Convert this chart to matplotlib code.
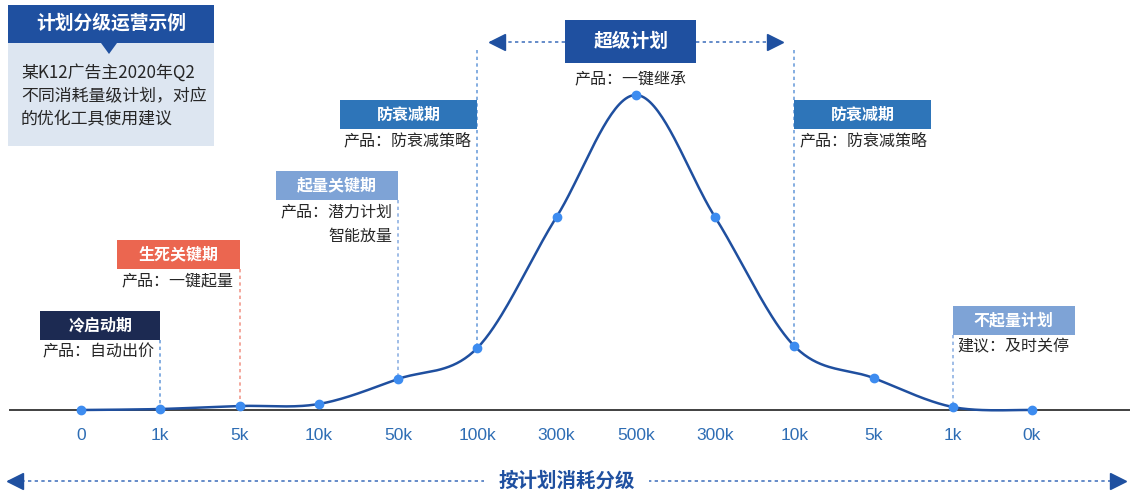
import numpy as np
import matplotlib.pyplot as plt
from matplotlib.patches import Rectangle, Polygon

plt.rcParams['font.family'] = ['Noto Sans CJK SC', 'DejaVu Sans']

# data
tick_labels = ['0', '1k', '5k', '10k', '50k', '100k', '300k', '500k', '300k', '10k', '5k', '1k', '0k']
values = [0, 1, 4, 6, 31, 62, 193, 315, 193, 64, 32, 3, 0]

# stage boxes: anchor category, which side of the anchor the box sits on
stage_titles = ['冷启动期', '生死关键期', '起量关键期', '防衰减期', '防衰减期', '不起量计划']
stage_anchor = [1, 2, 4, 5, 9, 11]
stage_side = ['left', 'left', 'left', 'left', 'right', 'right']
stage_top = [99, 170, 239, 310, 310, 104]
stage_width = [120, 122, 122, 137, 137, 122]
stage_colors = ['#1c2a52', '#eb6650', '#7ea3d6', '#2e75b9', '#2e75b9', '#7ea3d6']
stage_notes = [['产品：自动出价'], ['产品：一键起量'], ['产品：潜力计划', '智能放量'],
               ['产品：防衰减策略'], ['产品：防衰减策略'], ['建议：及时关停']]
line_colors = ['#6f9fdc', '#f19a8c', '#8fb2e3', '#6f9fdc', '#6f9fdc', '#8fb2e3']

info_title = '计划分级运营示例'
info_lines = ['某K12广告主2020年Q2', '不同消耗量级计划，对应', '的优化工具使用建议']

DARK = '#1f4f9f'
PX = 1 / 79.25  # x data units per pixel


def catmull_rom(x, y, n=40):
    p = np.column_stack([x, y]).astype(float)
    p = np.vstack([p[0], p, p[-1]])
    t = np.linspace(0, 1, n)[:, None]
    out = []
    for i in range(1, len(p) - 2):
        p0, p1, p2, p3 = p[i - 1], p[i], p[i + 1], p[i + 2]
        seg = 0.5 * ((2 * p1) + (-p0 + p2) * t + (2 * p0 - 5 * p1 + 4 * p2 - p3) * t ** 2
                     + (-p0 + 3 * p1 - 3 * p2 + p3) * t ** 3)
        out.append(seg)
    s = np.vstack(out)
    return s[:, 0], s[:, 1]


fig = plt.figure(figsize=(11.3, 4.92), dpi=100)
ax = fig.add_axes([0, 0, 1, 1])
ax.set_xlim(-81 * PX, (1130 - 81) * PX)
ax.set_ylim(-82, 410)
ax.axis('off')

xs = np.arange(len(values))

# baseline
ax.plot([-71 * PX, (1130 - 81) * PX], [0, 0], color='#404040', lw=1.4, zorder=2)

# curve
sx, sy = catmull_rom(xs, values)
ax.plot(sx, sy, color=DARK, lw=1.8, zorder=3)
ax.plot(xs, values, 'o', color='#3d8cf0', ms=6, zorder=4)

for i, lab in enumerate(tick_labels):
    ax.text(xs[i], -26, lab, ha='center', va='center', fontsize=12.5,
            color='#2e6db4', family='Liberation Sans')

# stage boxes
h = 29
for title, a, side, top, w, col, notes, lc in zip(stage_titles, stage_anchor, stage_side, stage_top,
                                                  stage_width, stage_colors, stage_notes, line_colors):
    x0 = xs[a] - w * PX if side == 'left' else xs[a]
    ax.add_patch(Rectangle((x0, top - h), w * PX, h, color=col, zorder=5, lw=0))
    ax.text(x0 + w * PX / 2, top - h / 2, title, ha='center', va='center', color='white',
            fontsize=11.5, fontweight='bold', zorder=6)
    for k, note in enumerate(notes):
        if side == 'left':
            ax.text(xs[a] - 6 * PX, top - h - 12 - 24 * k, note, ha='right', va='center',
                    fontsize=11.5, color='#262626')
        else:
            ax.text(xs[a] + 5 * PX, top - h - 12 - 24 * k, note, ha='left', va='center',
                    fontsize=11.5, color='#262626')
    y_start = 360 if a in (5, 9) else top - h
    ax.plot([xs[a], xs[a]], [y_start, values[a]], color=lc, lw=1.2, ls=(0, (2, 2)), zorder=1)

# super plan box
sw = 131
cx = xs[7] - 5 * PX
ax.add_patch(Rectangle((cx - sw * PX / 2, 347), sw * PX, 43, color='#1f50a0', zorder=5, lw=0))
ax.text(cx, 368.5, '超级计划', ha='center', va='center', color='white', fontsize=13.5,
        fontweight='bold', zorder=6)
ax.text(cx, 331, '产品：一键继承', ha='center', va='center', fontsize=11.5, color='#262626')
for x_from, x_to, mk in [(cx - sw * PX / 2, 490 * PX - 81 * PX, '<'),
                         (cx + sw * PX / 2, 782 * PX - 81 * PX, '>')]:
    ax.plot([x_from, x_to], [368, 368], color='#4a78c0', lw=1.2, ls=(0, (2, 2)))
    off = 7 * PX if mk == '<' else -7 * PX
    ax.plot([x_to + off], [368], marker=mk, color='#1f50a0', ms=11, mec='#1f50a0')

# bottom axis arrow
bx0, bx1 = -73 * PX, 1044 * PX
ax.plot([bx0, bx1], [-71, -71], color='#4a78c0', lw=1.2, ls=(0, (2, 2)))
ax.plot([bx0 + 7 * PX], [-71], marker='<', color='#1f50a0', ms=11)
ax.plot([bx1 - 7 * PX], [-71], marker='>', color='#1f50a0', ms=11)
ax.text((bx0 + bx1) / 2, -71, '按计划消耗分级', ha='center', va='center', fontsize=14,
        fontweight='bold', color='#1f50a0',
        bbox=dict(facecolor='white', edgecolor='none', pad=10), zorder=6)

# info box, top left
W, H = 1130, 492
fig.patches.append(Rectangle((8 / W, 1 - 146 / H), 206 / W, 103 / H, transform=fig.transFigure,
                             facecolor='#dde6f1', edgecolor='none', zorder=0))
fig.patches.append(Rectangle((8 / W, 1 - 43 / H), 206 / W, 38 / H, transform=fig.transFigure,
                             facecolor='#1f50a0', edgecolor='none', zorder=0))
fig.patches.append(Polygon([(101 / W, 1 - 43 / H), (117 / W, 1 - 43 / H), (109 / W, 1 - 54 / H)],
                           closed=True, transform=fig.transFigure, facecolor='#1f50a0',
                           edgecolor='none', zorder=0))
fig.text(111 / W, 1 - 23 / H, info_title, ha='center', va='center', color='white', fontsize=13.5,
         fontweight='bold')
for k, line in enumerate(info_lines):
    fig.text(21 / W, 1 - (73 + 23 * k) / H, line, ha='left', va='center', fontsize=12.2,
             color='#262626')

fig.savefig('out.png', dpi=100)
